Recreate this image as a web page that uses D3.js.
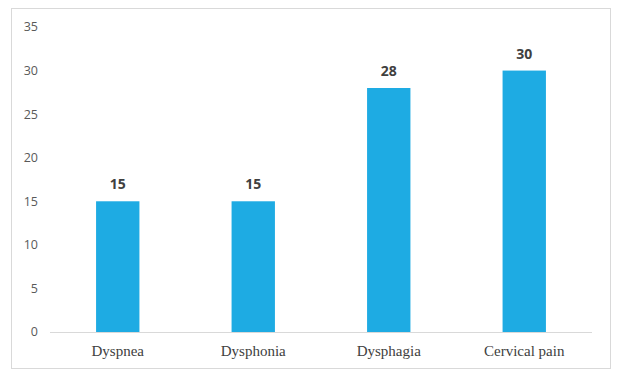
<!DOCTYPE html>
<html>
<head>
<meta charset="utf-8">
<script src="https://cdn.jsdelivr.net/npm/d3@7"></script>
<style>
  body { margin: 0; background: #fff; }
</style>
</head>
<body>
<svg width="619" height="378"></svg>
<script>
let categories = ['Dyspnea', 'Dysphonia', 'Dysphagia', 'Cervical pain'];
let values = [15, 15, 28, 30];
let yTicks = [0, 5, 10, 15, 20, 25, 30, 35];

let svg = d3.select('svg');

// chart border
svg.append('rect')
   .attr('x', 11.5)
   .attr('y', 8.5)
   .attr('width', 599)
   .attr('height', 360)
   .attr('fill', '#fff')
   .attr('stroke', '#d9d9d9');

let xScale = d3.scaleBand()
               .domain(categories)
               .range([50, 592])
               .paddingInner(0.68)
               .paddingOuter(0.34);

let yScale = d3.scaleLinear()
               .domain([0, 35])
               .range([332, 27]);

// y tick labels
svg.append('g')
   .selectAll('text')
   .data(yTicks)
   .join('text')
   .attr('x', 38)
   .attr('y', d => yScale(d))
   .attr('dy', '0.35em')
   .attr('text-anchor', 'end')
   .attr('font-family', 'Open Sans, sans-serif')
   .attr('font-size', 12.5)
   .attr('fill', '#595959')
   .text(d => d);

svg.selectAll('rect.bar')
   .data(values)
   .join('rect')
   .attr('class', 'bar')
   .attr('x', (d, i) => xScale(categories[i]))
   .attr('y', d => yScale(d))
   .attr('width', xScale.bandwidth())
   .attr('height', d => yScale(0) - yScale(d))
   .attr('fill', '#1eabe3');

// x axis line
svg.append('line')
   .attr('x1', 50)
   .attr('x2', 592)
   .attr('y1', yScale(0) + 0.5)
   .attr('y2', yScale(0) + 0.5)
   .attr('stroke', '#d9d9d9');

// category labels
svg.append('g')
   .selectAll('text')
   .data(categories)
   .join('text')
   .attr('x', d => xScale(d) + xScale.bandwidth() / 2)
   .attr('y', 356)
   .attr('text-anchor', 'middle')
   .attr('font-family', 'Liberation Serif, serif')
   .attr('font-size', 15)
   .attr('fill', '#404040')
   .text(d => d);

// value labels
svg.append('g')
   .selectAll('text')
   .data(values)
   .join('text')
   .attr('x', (d, i) => xScale(categories[i]) + xScale.bandwidth() / 2)
   .attr('y', d => yScale(d) - 12)
   .attr('text-anchor', 'middle')
   .attr('font-family', 'Open Sans, sans-serif')
   .attr('font-weight', 'bold')
   .attr('font-size', 14)
   .attr('fill', '#404040')
   .text(d => d);
</script>
</body>
</html>
